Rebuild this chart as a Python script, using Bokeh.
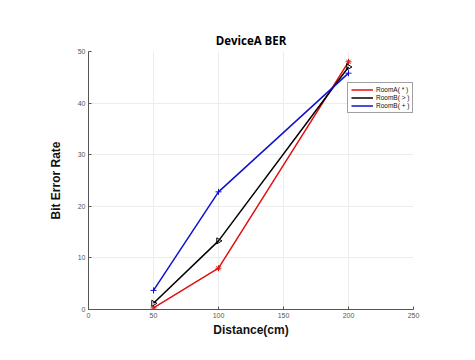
from bokeh.plotting import figure
from bokeh.embed import file_html
from bokeh.resources import INLINE
from bokeh.models import Range1d, Legend, LegendItem
import math

distance = [50, 100, 200]
room_a = [0.3, 8.0, 48.0]
room_b1 = [1.2, 13.3, 47.0]
room_b2 = [3.7, 22.8, 45.8]
x_ticks = [0, 50, 100, 150, 200, 250]
y_ticks = [0, 10, 20, 30, 40, 50]

p = figure(width=467, height=352, output_backend="svg", toolbar_location=None,
           x_range=Range1d(0, 250), y_range=Range1d(0, 50),
           min_border_left=88, min_border_right=54, min_border_top=51, min_border_bottom=43)
p.outline_line_color = None
p.background_fill_color = "white"
p.border_fill_color = "white"

p.title.text = "DeviceA BER"
p.title.align = "center"
p.title.text_font = "Open Sans"
p.title.text_font_size = "11.5px"
p.title.text_font_style = "bold"
p.title.text_color = "#000000"
p.title.standoff = 8

for ax in (p.xaxis[0], p.yaxis[0]):
    ax.axis_line_color = "#555555"
    ax.major_tick_line_color = "#555555"
    ax.major_tick_in = 3
    ax.major_tick_out = 0
    ax.minor_tick_line_color = None
    ax.major_label_text_font = "Liberation Sans"
    ax.major_label_text_font_size = "7px"
    ax.major_label_text_color = "#555555"
    ax.axis_label_text_font = "Liberation Sans"
    ax.axis_label_text_font_size = "12px"
    ax.axis_label_text_font_style = "bold"
    ax.axis_label_text_color = "#111111"

p.xaxis.ticker = x_ticks
p.yaxis.ticker = y_ticks
p.xaxis.axis_label = "Distance(cm)"
p.yaxis.axis_label = "Bit Error Rate"
p.xaxis.major_label_standoff = 3
p.yaxis.major_label_standoff = 3
p.xaxis.axis_label_standoff = 2
p.yaxis.axis_label_standoff = 12

p.xgrid.ticker = x_ticks
p.ygrid.ticker = y_ticks
p.grid.grid_line_color = "#ececec"
p.grid.grid_line_width = 1

r1 = p.line(distance, room_a, line_color="#e01010", line_width=1.5)
m1 = p.scatter(distance, room_a, marker="asterisk", size=6, line_color="#e01010", line_width=1)
r2 = p.line(distance, room_b1, line_color="#000000", line_width=1.5)
m2 = p.scatter(distance, room_b1, marker="triangle", angle=-math.pi / 2, size=6,
               line_color="#000000", fill_color=None, line_width=1)
r3 = p.line(distance, room_b2, line_color="#1010d0", line_width=1.5)
m3 = p.scatter(distance, room_b2, marker="cross", size=6, line_color="#1010d0", line_width=1)

legend = Legend(items=[
    LegendItem(label="RoomA( * )", renderers=[r1]),
    LegendItem(label="RoomB( > )", renderers=[r2]),
    LegendItem(label="RoomB( + )", renderers=[r3]),
], location=(259, 196))
legend.label_text_font = "Liberation Sans"
legend.label_text_font_size = "6.5px"
legend.label_text_color = "#111111"
legend.label_height = 7
legend.glyph_height = 7
legend.glyph_width = 22
legend.label_standoff = 3
legend.spacing = 1
legend.padding = 3
legend.margin = 0
legend.border_line_color = "#444444"
legend.border_line_width = 1
legend.background_fill_color = "white"
legend.background_fill_alpha = 1
p.add_layout(legend)

open("out.html", "w").write(file_html(p, INLINE))
